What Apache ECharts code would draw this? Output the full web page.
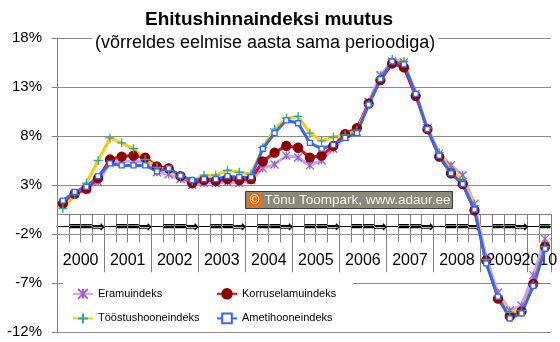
<!DOCTYPE html>
<html>
<head>
<meta charset="utf-8">
<script src="https://cdn.jsdelivr.net/npm/echarts@6/dist/echarts.min.js"></script>
<style>
  html, body { margin: 0; padding: 0; background: #fff; }
  #chart { width: 560px; height: 342px; }
</style>
</head>
<body>
<div id="chart"></div>
<script>
// Years and how many quarters of each are shown
const years = ['2000', '2001', '2002', '2003', '2004', '2005', '2006', '2007', '2008', '2009', '2010'];
const quartersPerYear = [4, 4, 4, 4, 4, 4, 4, 4, 4, 4, 2];
// Quarter marks under the zero line
const quarterMarks = ['', '═', '═', '⇒'];
// Value axis tick positions (%)
const yTicks = [-12, -7, -2, 3, 8, 13, 18];

// Year-on-year change, %, one value per quarter (2000 Q1 .. 2010 Q2)
const eramu = [1.2, 2.1, 2.6, 3.3, 5.3, 5.4, 5.4, 5.4, 4.3, 4.1, 3.6, 3.0,
               3.2, 3.2, 3.3, 3.2, 3.5, 4.7, 5.1, 6.0, 5.8, 5.0, 5.5, 6.7,
               7.9, 8.4, 11.5, 14.2, 15.6, 15.5, 12.3, 8.8, 6.2, 5.0, 4.0, 1.1,
               -4.4, -8.0, -9.8, -9.3, -6.2, -2.5];
const korrus = [1.1, 2.1, 2.6, 3.7, 5.6, 5.9, 6.0, 5.8, 4.9, 4.7, 3.9, 3.2,
                3.5, 3.4, 3.6, 3.5, 3.6, 5.4, 6.3, 7.0, 6.8, 5.8, 6.0, 7.0,
                8.2, 8.8, 11.3, 13.7, 15.4, 15.0, 12.1, 8.7, 5.9, 4.2, 3.1, 0.4,
                -4.7, -8.6, -10.4, -9.9, -7.1, -3.3];
const toostus = [0.6, 2.0, 3.2, 5.5, 7.8, 7.3, 6.7, 5.6, 4.8, 4.5, 3.9, 3.4,
                 4.0, 4.0, 4.5, 4.3, 4.1, 6.8, 8.7, 9.8, 10.0, 8.3, 7.5, 7.9,
                 8.1, 8.6, 11.2, 13.9, 15.8, 15.6, 12.4, 8.8, 6.3, 4.5, 3.5, 0.9,
                 -4.6, -8.3, -10.0, -9.8, -7.2, -3.3];
const ameti = [1.4, 2.3, 2.8, 3.9, 5.2, 5.0, 5.0, 5.0, 4.4, 4.7, 3.95, 3.5,
               3.6, 3.6, 3.9, 3.8, 3.8, 6.7, 8.3, 9.6, 9.3, 7.3, 6.7, 7.1,
               7.8, 8.3, 11.2, 13.8, 15.6, 15.3, 12.3, 8.7, 6.0, 4.2, 3.1, 0.5,
               -5.0, -8.4, -10.6, -10.1, -7.3, -3.5];

// Build the two-level category axis: quarter marks and year names
const quarterAxis = [];
const yearAxis = [];
const yearStarts = new Set();
const yearLabelAt = new Set();
years.forEach((y, k) => {
  const n = quartersPerYear[k];
  yearStarts.add(quarterAxis.length);
  yearLabelAt.add(quarterAxis.length + Math.floor((n - 1) / 2));
  for (let q = 0; q < n; q++) {
    quarterAxis.push(quarterMarks[q]);
    yearAxis.push(y);
  }
});

const FONT = 'Arial, "Liberation Sans", sans-serif';
const GRID = { left: 57, right: 2, top: 38, bottom: 10 };
const Y_MIN = -12, Y_MAX = 18;
const chartH = 342;
// pixel distance from the grid bottom up to a given value
const liftTo = (v) => (chartH - GRID.top - GRID.bottom) * (v - Y_MIN) / (Y_MAX - Y_MIN);

const chart = echarts.init(document.getElementById('chart'), null, { renderer: 'canvas' });

const lineSeries = (name, data, lineColor, symbol, size, sColor, fill) => ({
  name, type: 'line', data,
  xAxisIndex: 0, yAxisIndex: 0,
  symbol, symbolSize: size,
  lineStyle: { color: lineColor, width: 3 },
  itemStyle: { color: fill, borderColor: sColor, borderWidth: 1.3 },
  emphasis: { disabled: true },
  animation: false
});

chart.setOption({
  backgroundColor: '#fff',
  animation: false,
  title: [
    {
      text: 'Ehitushinnaindeksi muutus',
      left: 145, top: 10, padding: 0,
      textStyle: { fontFamily: FONT, fontSize: 19, fontWeight: 'bold', color: '#000' }
    },
    {
      text: '(võrreldes eelmise aasta sama perioodiga)',
      left: 92, top: 32, padding: [2, 3, 2, 3],
      backgroundColor: '#fff',
      textStyle: { fontFamily: FONT, fontSize: 18, fontWeight: 'normal', color: '#000' }
    }
  ],
  grid: Object.assign({ containLabel: false }, GRID),
  xAxis: [
    {
      // quarter row, sitting on the 0% line
      type: 'category', data: quarterAxis, boundaryGap: true,
      position: 'bottom', offset: -liftTo(0),
      axisLine: { onZero: false, lineStyle: { color: '#808080', width: 1 } },
      axisTick: { show: true, interval: 0, length: 28, lineStyle: { color: '#808080' } },
      axisLabel: { interval: 0, margin: 5, hideOverlap: false, fontFamily: '"DejaVu Sans"', fontSize: 17, color: '#000' },
      splitLine: { show: false }
    },
    {
      // year row: one name per year, centred under its quarters
      type: 'category', data: yearAxis, boundaryGap: true,
      position: 'bottom', offset: -liftTo(-1.2),
      axisLine: { onZero: false, lineStyle: { color: '#000', width: 1 } },
      axisTick: { show: true, interval: (i) => yearStarts.has(i), length: 46, lineStyle: { color: '#808080' } },
      axisLabel: {
        interval: 0, hideOverlap: false,
        formatter: (value, index) => (yearLabelAt.has(index) ? value : ''),
        margin: 26, padding: [0, 0, 0, 12],
        fontFamily: FONT, fontSize: 16, color: '#000'
      },
      splitLine: { show: false }
    }
  ],
  yAxis: {
    type: 'value', min: Y_MIN, max: Y_MAX,
    axisLine: { show: true, lineStyle: { color: '#808080' } },
    axisTick: { show: true, length: 5, customValues: yTicks, lineStyle: { color: '#808080' } },
    axisLabel: { customValues: yTicks, formatter: (v) => v + '%', margin: 15, fontFamily: FONT, fontSize: 15, color: '#000' },
    splitLine: { show: true, lineStyle: { color: '#8c8c8c', width: 1 } }
  },
  legend: [
    {
      data: ['Eramuindeks', 'Tööstushooneindeks'],
      orient: 'vertical', left: 72, top: 288, itemGap: 13,
      itemWidth: 20, itemHeight: 12, padding: 0,
      textStyle: { fontFamily: FONT, fontSize: 11, color: '#000' }
    },
    {
      data: ['Korruselamuindeks', 'Ametihooneindeks'],
      orient: 'vertical', left: 216, top: 288, itemGap: 13,
      itemWidth: 20, itemHeight: 12, padding: 0,
      textStyle: { fontFamily: FONT, fontSize: 11, color: '#000' }
    }
  ],
  graphic: [
    // white backing behind the legend
    { type: 'rect', left: 63, top: 276, z: 1, silent: true,
      shape: { width: 290, height: 54 }, style: { fill: '#fff' } },
    // author credit
    { type: 'group', left: 245, top: 191, z: 10, children: [
      { type: 'rect', shape: { x: 0, y: 0, width: 207, height: 17 },
        style: { fill: '#8a8a7a', stroke: '#3c3c3c', lineWidth: 1 } },
      { type: 'rect', shape: { x: 2, y: 2, width: 14, height: 13 },
        style: { fill: '#ff6a00' } },
      { type: 'text', x: 9, y: 8.5,
        style: { text: '©', fill: '#fff', font: '13px ' + FONT, align: 'center', verticalAlign: 'middle' } },
      { type: 'text', x: 19, y: 8.5,
        style: { text: 'Tõnu Toompark, www.adaur.ee', fill: '#f4f4f4', font: '13.5px ' + FONT, verticalAlign: 'middle' } }
    ] }
  ],
  series: [
    lineSeries('Eramuindeks', eramu, '#c9a3f5', 'path://M0,0L10,10M10,0L0,10M5,0L5,10', 8, '#9a5fd6', '#9a5fd6'),
    lineSeries('Korruselamuindeks', korrus, '#ff0000', 'circle', 9, '#8b0000', '#8b0000'),
    lineSeries('Tööstushooneindeks', toostus, '#ffcc00', 'path://M5,0L5,10M0,5L10,5', 9, '#2fa89a', '#2fa89a'),
    lineSeries('Ametihooneindeks', ameti, '#3366ff', 'rect', 5, '#3366ff', '#ffffff')
  ]
});
</script>
</body>
</html>
